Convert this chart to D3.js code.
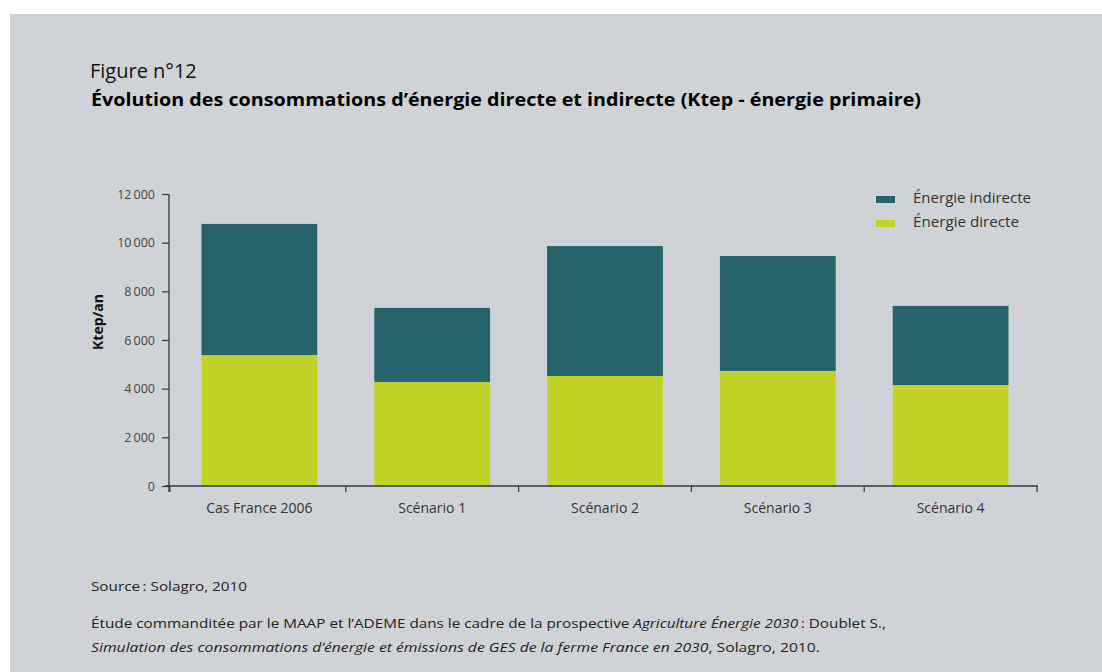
<!DOCTYPE html>
<html lang="fr">
<head>
<meta charset="UTF-8">
<title>Figure n°12</title>
<script src="https://d3js.org/d3.v7.min.js"></script>
<style>
  body { margin: 0; background: #ffffff; }
  svg { display: block; }
</style>
</head>
<body>
<div id="chart"></div>
<script>
// chart data (Ktep)
var categories = ['Cas France 2006', 'Scénario 1', 'Scénario 2', 'Scénario 3', 'Scénario 4'];
var directe = [5380, 4270, 4520, 4730, 4150];
var indirecte = [5390, 3050, 5340, 4720, 3250];
var yTicks = [0, 2000, 4000, 6000, 8000, 10000, 12000];
var seriesNames = ['Énergie indirecte', 'Énergie directe'];
var seriesColors = {'Énergie indirecte': '#26636a', 'Énergie directe': '#c2d227'};

var W = 1102, H = 672;
var font = "'Open Sans', 'DejaVu Sans', sans-serif";

var svg = d3.select('#chart').append('svg')
    .attr('width', W).attr('height', H);

// grey panel
svg.append('rect')
    .attr('x', 10).attr('y', 14)
    .attr('width', W - 10).attr('height', H - 14)
    .attr('fill', '#cfd3d7');

// titles
svg.append('text')
    .attr('x', 90).attr('y', 78)
    .style('font-family', font).style('font-size', '20px').style('font-weight', 400)
    .attr('fill', '#111')
    .text('Figure n°12');

svg.append('text')
    .attr('x', 91).attr('y', 106)
    .attr('textLength', 830).attr('lengthAdjust', 'spacingAndGlyphs')
    .style('font-family', font).style('font-size', '17px').style('font-weight', 'bold')
    .attr('fill', '#000')
    .text('Évolution des consommations d’énergie directe et indirecte (Ktep - énergie primaire)');

// scales
var x = d3.scaleBand()
    .domain(categories)
    .range([173, 1037])
    .paddingInner(0.33)
    .paddingOuter(0.165);

var y = d3.scaleLinear()
    .domain([0, 12000])
    .range([486, 194]);

// stack data
var rows = categories.map(function(c, i) {
    return {cat: c, 'Énergie directe': directe[i], 'Énergie indirecte': indirecte[i]};
});
var stack = d3.stack().keys(['Énergie directe', 'Énergie indirecte']);
var layers = stack(rows);

var g = svg.append('g');

g.selectAll('.layer')
    .data(layers)
    .enter().append('g')
    .attr('class', 'layer')
    .attr('fill', function(d) { return seriesColors[d.key]; })
    .selectAll('rect')
    .data(function(d) { return d; })
    .enter().append('rect')
    .attr('x', function(d) { return x(d.data.cat); })
    .attr('y', function(d) { return y(d[1]); })
    .attr('width', x.bandwidth())
    .attr('height', function(d) { return y(d[0]) - y(d[1]); });

// y axis
var fmt = function(v) { return v === 0 ? '0' : d3.format(',')(v).replace(',', '\u2009'); };
var yAxis = g.append('g')
    .attr('transform', 'translate(169,0)')
    .call(d3.axisLeft(y).tickValues(yTicks).tickFormat(fmt).tickSize(7).tickSizeOuter(0));
yAxis.select('.domain').attr('stroke', '#2b3a44').attr('stroke-width', 1.3)
    .attr('d', 'M0,194V492');
yAxis.selectAll('.tick line').attr('stroke', '#2b3a44').attr('stroke-width', 1.2);
yAxis.selectAll('.tick text')
    .attr('x', -14)
    .style('font-family', font).style('font-size', '12.5px').attr('fill', '#444');

// x axis
var xAxis = g.append('g')
    .attr('transform', 'translate(0,486)')
    .call(d3.axisBottom(x).tickSize(0).tickPadding(0).tickSizeOuter(0));
xAxis.select('.domain').attr('stroke', '#2b3a44').attr('stroke-width', 1.3)
    .attr('d', 'M165,0H1038');
xAxis.selectAll('.tick text')
    .attr('y', 17)
    .style('font-family', font).style('font-size', '14px').attr('fill', '#333');

// x band separators
var edges = [170].concat(categories.map(function(c) { return x(c) + x.bandwidth() + x.step() * x.paddingInner() / 2; }));
edges[edges.length - 1] = 1037;
xAxis.selectAll('.sep')
    .data(edges)
    .enter().append('line')
    .attr('class', 'sep')
    .attr('x1', function(d) { return d; }).attr('x2', function(d) { return d; })
    .attr('y1', 0).attr('y2', 6)
    .attr('stroke', '#2b3a44').attr('stroke-width', 1.2);

// y label
svg.append('text')
    .attr('transform', 'translate(103,322) rotate(-90)')
    .attr('text-anchor', 'middle')
    .style('font-family', font).style('font-size', '14px').style('font-weight', 'bold')
    .attr('fill', '#111')
    .text('Ktep/an');

// legend
var legend = svg.append('g').attr('transform', 'translate(876,196)');
var li = legend.selectAll('.li')
    .data(seriesNames)
    .enter().append('g')
    .attr('class', 'li')
    .attr('transform', function(d, i) { return 'translate(0,' + (i * 24) + ')'; });
li.append('rect')
    .attr('width', 19).attr('height', 7)
    .attr('fill', function(d) { return seriesColors[d]; });
li.append('text')
    .attr('x', 37).attr('y', 7)
    .attr('textLength', function(d, i) { return i === 0 ? 118 : 106; })
    .attr('lengthAdjust', 'spacingAndGlyphs')
    .style('font-family', font).style('font-size', '14.5px').attr('fill', '#333')
    .text(function(d) { return d; });

// source and notes
var notes = svg.append('g')
    .style('font-family', "'Open Sans', sans-serif").style('font-size', '13px').attr('fill', '#222');
notes.append('text')
    .attr('x', 91).attr('y', 591)
    .attr('textLength', 156).attr('lengthAdjust', 'spacingAndGlyphs')
    .text('Source\u2009: Solagro, 2010');

var l1 = notes.append('text').attr('x', 91).attr('y', 628)
    .attr('textLength', 795).attr('lengthAdjust', 'spacingAndGlyphs');
l1.append('tspan').text('Étude commanditée par le MAAP et l’ADEME dans le cadre de la prospective ');
l1.append('tspan').style('font-style', 'italic').text('Agriculture Énergie 2030');
l1.append('tspan').text('\u2009: Doublet S.,');

var l2 = notes.append('text').attr('x', 91).attr('y', 652)
    .attr('textLength', 729).attr('lengthAdjust', 'spacingAndGlyphs');
l2.append('tspan').style('font-style', 'italic').text('Simulation des consommations d’énergie et émissions de GES de la ferme France en 2030');
l2.append('tspan').text(', Solagro, 2010.');
</script>
</body>
</html>
